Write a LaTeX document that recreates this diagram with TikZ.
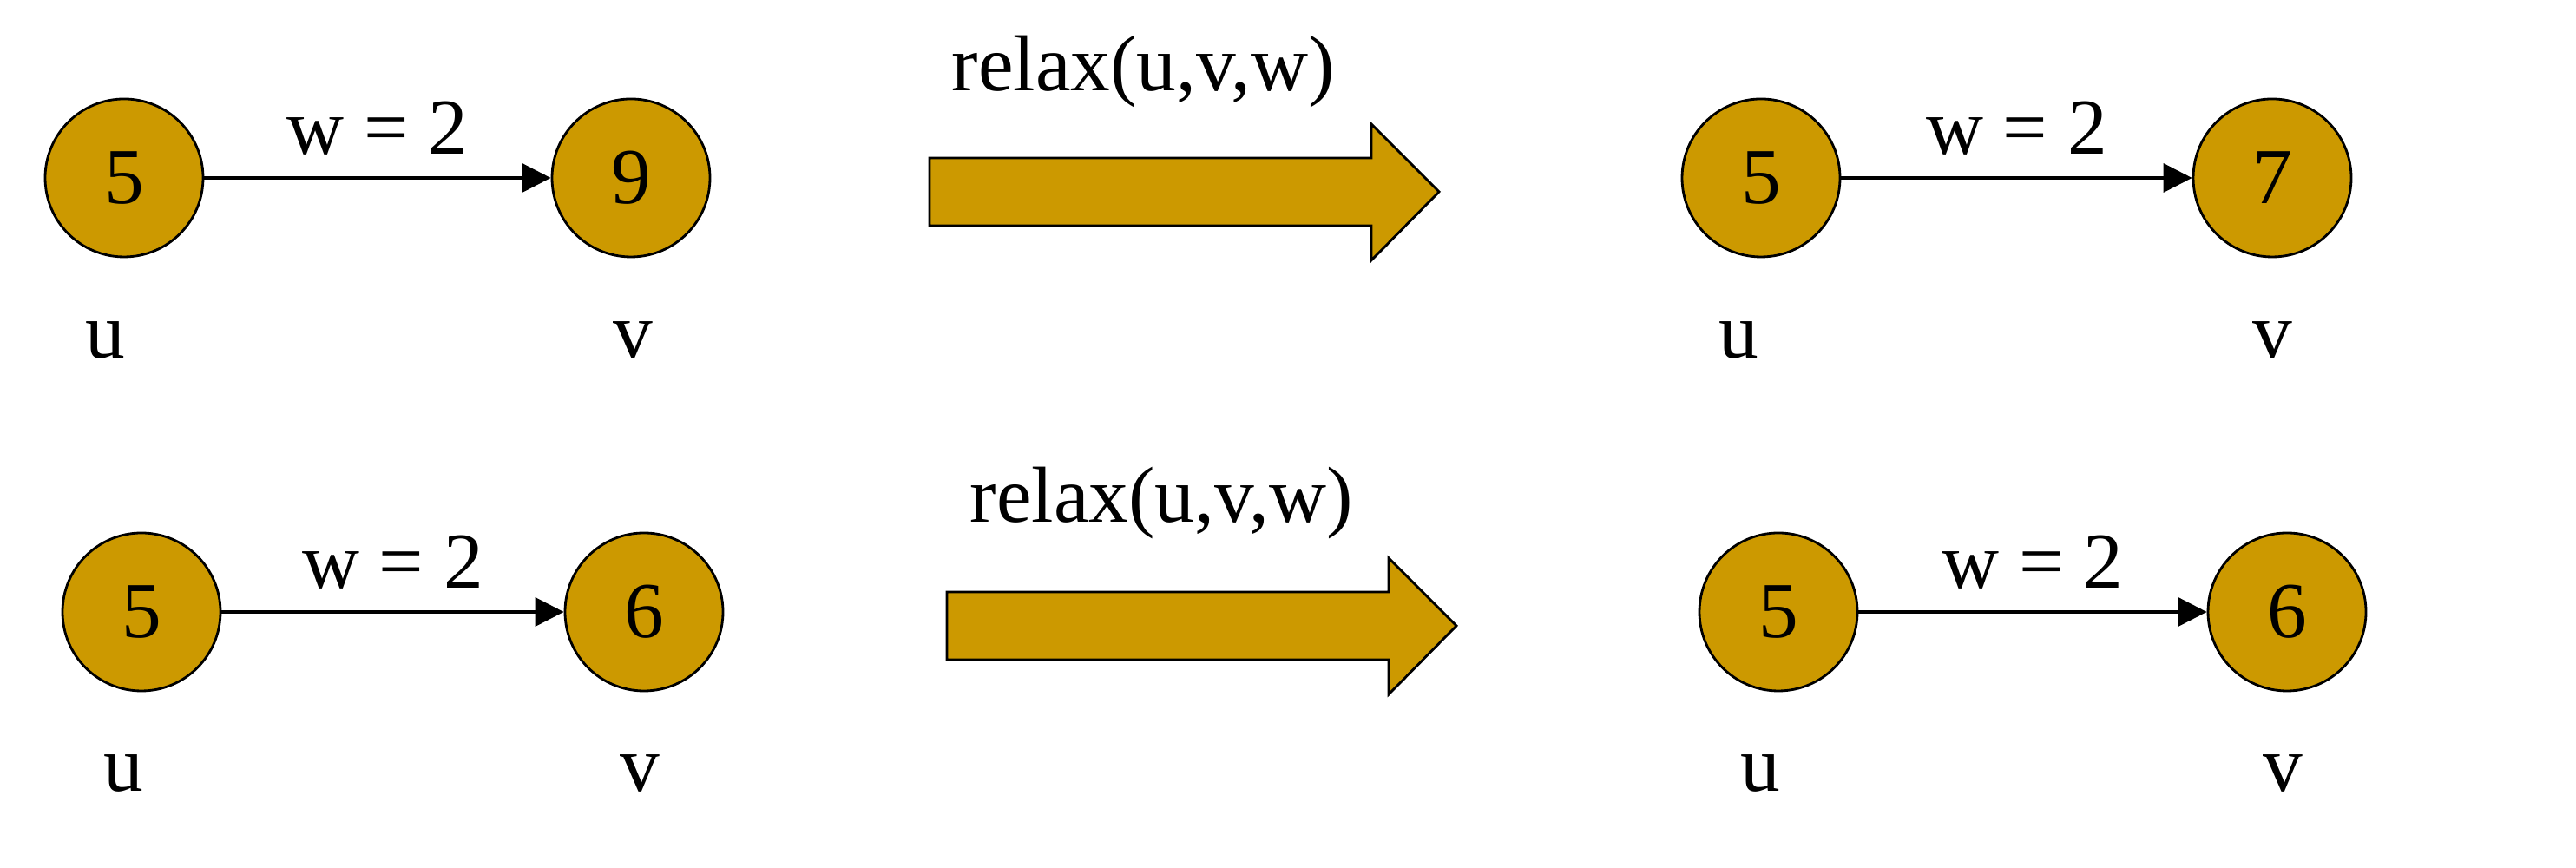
\documentclass[tikz,border=0pt]{standalone}
\usepackage{fontspec}
\setmainfont{Liberation Serif}
\usetikzlibrary{arrows.meta}
\definecolor{gold}{HTML}{CC9900}

\begin{document}
\begin{tikzpicture}[
  font=\fontsize{26}{30}\selectfont,
  vert/.style={circle, draw=black, line width=0.8pt, fill=gold, minimum size=1.82cm, inner sep=0pt},
  tag/.style={anchor=base, inner sep=0pt},
  link/.style={draw=black, line width=1pt, -{Triangle[length=0.33cm, width=0.33cm]}},
  wlab/.style={above=7pt, inner sep=0pt},
  bigarrow/.style={draw=black, line width=0.8pt, fill=gold, line join=miter}
]
\useasboundingbox (0,0) rectangle (29.68,10);
% before relaxing, first pair
\node[vert] (u1a) at (1.43,7.95) {5};
\node[vert] (v1a) at (7.27,7.95) {9};
\draw[link] (u1a) -- node[wlab] (w1a) {w = 2} (v1a);
\node[tag] (lu1a) at (1.21,5.87) {u};
\node[tag] (lv1a) at (7.29,5.87) {v};
% relax step
\node[tag] (r1) at (13.17,8.95) {relax(u,v,w)};
\draw[bigarrow] (10.71,7.40) -- (15.80,7.40) -- (15.80,7.00) -- (16.58,7.79)
  -- (15.80,8.57) -- (15.80,8.18) -- (10.71,8.18) -- cycle;
% after relaxing, first pair
\node[vert] (u1b) at (20.29,7.95) {5};
\node[vert] (v1b) at (26.18,7.95) {7};
\draw[link] (u1b) -- node[wlab] (w1b) {w = 2} (v1b);
\node[tag] (lu1b) at (20.03,5.87) {u};
\node[tag] (lv1b) at (26.18,5.87) {v};

% before relaxing, second pair
\node[vert] (u2a) at (1.63,2.95) {5};
\node[vert] (v2a) at (7.42,2.95) {6};
\draw[link] (u2a) -- node[wlab] (w2a) {w = 2} (v2a);
\node[tag] (lu2a) at (1.42,0.88) {u};
\node[tag] (lv2a) at (7.37,0.88) {v};
% relax step
\node[tag] (r2) at (13.38,3.98) {relax(u,v,w)};
\draw[bigarrow] (10.91,2.40) -- (16.00,2.40) -- (16.00,2.00) -- (16.78,2.79)
  -- (16.00,3.57) -- (16.00,3.18) -- (10.91,3.18) -- cycle;
% after relaxing, second pair
\node[vert] (u2b) at (20.49,2.95) {5};
\node[vert] (v2b) at (26.35,2.95) {6};
\draw[link] (u2b) -- node[wlab] (w2b) {w = 2} (v2b);
\node[tag] (lu2b) at (20.28,0.88) {u};
\node[tag] (lv2b) at (26.30,0.88) {v};
\end{tikzpicture}
\end{document}
